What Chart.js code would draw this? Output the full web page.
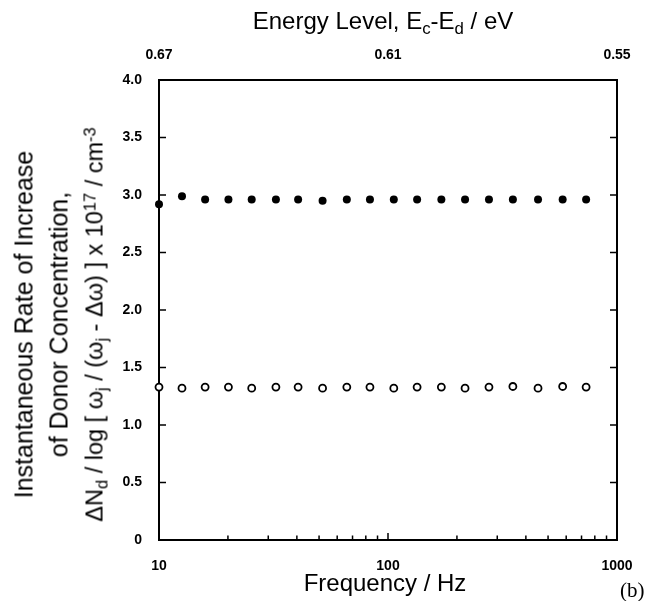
<!DOCTYPE html>
<html>
<head>
<meta charset="utf-8">
<script src="https://cdn.jsdelivr.net/npm/chart.js@4.4.0/dist/chart.umd.min.js"></script>
<style>
body { margin: 0; background: #fff; }
#box { position: relative; width: 654px; height: 601px; font-family: "Liberation Sans", Arial, sans-serif; color: #000; }
#grafico { position: absolute; left: 0; top: 0; }
.titolo { position: absolute; font-size: 24px; line-height: 24px; white-space: nowrap; }
.sub { position: relative; top: 0.3em; font-size: 0.7em; }
.sup { position: relative; top: -0.45em; font-size: 0.7em; }
#titoloTop { left: 383px; top: 9px; transform: translateX(-50%); }
#titoloX { left: 385px; top: 571px; transform: translateX(-50%); }
#titoloY { left: -171px; top: 272px; width: 460px; height: 105px; font-size: 25px; line-height: 35px; text-align: center; transform: rotate(-90deg); }
#riga3 { font-size: 23.5px; }
#lettera { position: absolute; left: 620px; top: 578px; font-family: "Liberation Serif", "Times New Roman", serif; font-size: 21px; }
</style>
</head>
<body>
<div id="box">
    <canvas id="grafico" width="654" height="601"></canvas>
    <div class="titolo" id="titoloTop">Energy Level, E<span class="sub">c</span>-E<span class="sub">d</span> / eV</div>
    <div class="titolo" id="titoloX">Frequency / Hz</div>
    <div class="titolo" id="titoloY">Instantaneous Rate of Increase<br>of Donor Concentration,<br><span id="riga3">&Delta;N<span class="sub">d</span> / log [ &omega;<span class="sub">j</span> / (&omega;<span class="sub">j</span> - &Delta;&omega;) ] x 10<span class="sup">17</span> / cm<span class="sup">-3</span></span></div>
    <div id="lettera">(b)</div>
</div>
<script>
// dati
var frequenze = [10, 12.6, 15.9, 20.1, 25.4, 32.4, 40.5, 51.8, 66.1, 83.4, 106, 134, 171, 217, 276, 351, 452, 579, 733];
var pieni = [2.92, 2.99, 2.96, 2.96, 2.96, 2.96, 2.96, 2.95, 2.96, 2.96, 2.96, 2.96, 2.96, 2.96, 2.96, 2.96, 2.96, 2.96, 2.96];
var vuoti = [1.33, 1.32, 1.33, 1.33, 1.32, 1.33, 1.33, 1.32, 1.33, 1.33, 1.32, 1.33, 1.33, 1.32, 1.33, 1.335, 1.32, 1.335, 1.33];
var etichetteFreq = [10, 100, 1000];
var energie = [0.67, 0.61, 0.55];

function punti(valori) {
    var out = [];
    for (var i = 0; i < frequenze.length; i++) {
        out.push({ x: frequenze[i], y: valori[i] });
    }
    return out;
}

var fontTick = { family: 'Liberation Sans', size: 14, weight: 'bold' };

// tacche verso l'interno
var tacche = {
    id: 'tacche',
    afterDraw: function (chart) {
        var ctx = chart.ctx;
        var a = chart.chartArea;
        var sy = chart.scales.y;
        var sx = chart.scales.x;
        ctx.save();
        ctx.strokeStyle = '#000';
        ctx.lineWidth = 1.5;
        ctx.beginPath();
        sy.ticks.forEach(function (t) {
            var py = sy.getPixelForValue(t.value);
            var len = Math.round(t.value * 100) % 50 === 0 ? 7 : 4;
            ctx.moveTo(a.left, py); ctx.lineTo(a.left + len, py);
            ctx.moveTo(a.right, py); ctx.lineTo(a.right - len, py);
        });
        // asse log: decadi con tacche minori 2..9
        for (var d = 0; d < etichetteFreq.length; d++) {
            var kmax = d < etichetteFreq.length - 1 ? 9 : 1;
            for (var k = 1; k <= kmax; k++) {
                var px = sx.getPixelForValue(etichetteFreq[d] * k);
                var len = k === 1 ? 7 : 4.5;
                ctx.moveTo(px, a.bottom); ctx.lineTo(px, a.bottom - len);
            }
        }
        ctx.stroke();
        ctx.restore();
    }
};

var grafico = new Chart(document.getElementById('grafico'), {
    type: 'scatter',
    data: {
        datasets: [{
            data: punti(pieni),
            pointRadius: 4,
            pointBackgroundColor: '#000',
            pointBorderWidth: 0,
            clip: false
        }, {
            data: punti(vuoti),
            pointRadius: 3.5,
            pointBackgroundColor: '#fff',
            pointBorderColor: '#000',
            pointBorderWidth: 1.8,
            clip: false
        }]
    },
    options: {
        responsive: false,
        animation: false,
        layout: { padding: 0 },
        plugins: { legend: { display: false }, tooltip: { enabled: false } },
        scales: {
            x: {
                type: 'logarithmic',
                position: 'bottom',
                min: 10,
                max: 1000,
                grid: { display: false },
                border: { color: '#000', width: 2 },
                ticks: {
                    autoSkip: false,
                    maxRotation: 0,
                    padding: 10,
                    color: '#000',
                    font: fontTick,
                    callback: function (v) {
                        return etichetteFreq.indexOf(v) >= 0 ? String(v) : null;
                    }
                },
                afterBuildTicks: function (s) {
                    s.ticks = etichetteFreq.map(function (f) { return { value: f }; });
                },
                afterFit: function (s) { s.height = 61; }
            },
            x2: {
                type: 'linear',
                position: 'top',
                min: 0.55,
                max: 0.67,
                reverse: true,
                grid: { display: false },
                border: { color: '#000', width: 2 },
                ticks: {
                    padding: 8,
                    color: '#000',
                    font: fontTick,
                    callback: function (v) { return v.toFixed(2); }
                },
                afterBuildTicks: function (s) {
                    s.ticks = energie.map(function (e) { return { value: e }; });
                },
                afterFit: function (s) { s.height = 80; }
            },
            y: {
                type: 'linear',
                position: 'left',
                min: 0,
                max: 4,
                grid: { display: false },
                border: { color: '#000', width: 2 },
                ticks: {
                    stepSize: 0.25,
                    autoSkip: false,
                    padding: 9,
                    color: '#000',
                    font: fontTick,
                    callback: function (v) {
                        if (v === 0) return '0';
                        if (Math.round(v * 100) % 50 !== 0) return null;
                        return v.toFixed(1);
                    }
                },
                afterFit: function (s) { s.width = 159; }
            },
            y2: {
                type: 'linear',
                position: 'right',
                min: 0,
                max: 4,
                grid: { display: false },
                border: { color: '#000', width: 2 },
                ticks: { display: false },
                afterFit: function (s) { s.width = 37; }
            }
        }
    },
    plugins: [tacche]
});
</script>
</body>
</html>
